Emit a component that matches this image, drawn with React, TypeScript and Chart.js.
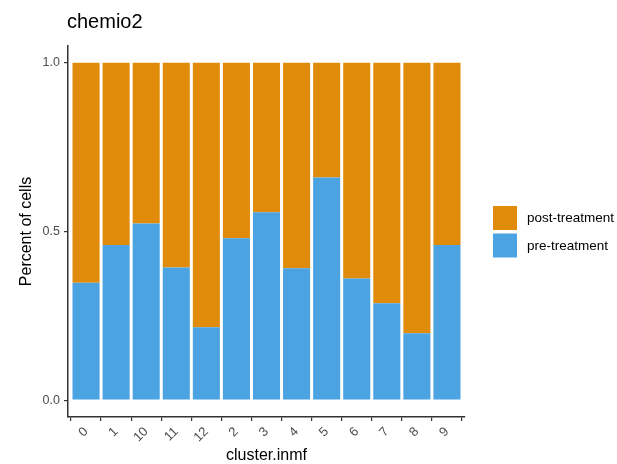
import React, { useEffect, useRef } from "react";
import { Chart, registerables } from "chart.js";

Chart.register(...registerables);

const categories = ["0", "1", "10", "11", "12", "2", "3", "4", "5", "6", "7", "8", "9"];
const preTreatment = [0.348, 0.46, 0.524, 0.393, 0.216, 0.48, 0.557, 0.391, 0.66, 0.361, 0.287, 0.198, 0.46];
const postTreatment = [0.652, 0.54, 0.476, 0.607, 0.784, 0.52, 0.443, 0.609, 0.34, 0.639, 0.713, 0.802, 0.54];
const yTicks = [0, 0.5, 1.0];

const ORANGE = "#E08B0A";
const BLUE = "#4BA3E1";
const FONT = "'Liberation Sans', Arial, Helvetica, sans-serif";

export default function App() {
  const ref = useRef<HTMLCanvasElement | null>(null);

  useEffect(() => {
    const canvas = ref.current;
    if (!canvas) return;

    const textPlugin = {
      id: "textPlugin",
      afterDraw(chart: any) {
        const ctx = chart.ctx as CanvasRenderingContext2D;
        const area = chart.chartArea;
        ctx.save();
        // title
        ctx.fillStyle = "#000";
        ctx.font = `20px ${FONT}`;
        ctx.textAlign = "left";
        ctx.textBaseline = "alphabetic";
        ctx.fillText("chemio2", 67, 28);
        // x title
        ctx.font = `16px ${FONT}`;
        ctx.textAlign = "center";
        ctx.textBaseline = "middle";
        ctx.fillText("cluster.inmf", (area.left + area.right) / 2, 456);
        // y title
        ctx.save();
        ctx.translate(27, (area.top + area.bottom) / 2);
        ctx.rotate(-Math.PI / 2);
        ctx.fillText("Percent of cells", 0, 0);
        ctx.restore();
        // legend
        const items = [
          { label: "post-treatment", color: ORANGE },
          { label: "pre-treatment", color: BLUE },
        ];
        ctx.font = `13.5px ${FONT}`;
        ctx.textAlign = "left";
        items.forEach((it, i) => {
          const y = 206 + i * 27.5;
          ctx.fillStyle = it.color;
          ctx.fillRect(493, y, 24, 24);
          ctx.fillStyle = "#000";
          ctx.fillText(it.label, 527, y + 12.5);
        });
        ctx.restore();
      },
    };

    const chart = new Chart(canvas, {
      type: "bar",
      data: {
        datasets: [
          {
            label: "pre-treatment",
            data: preTreatment.map((v, i) => ({ x: i, y: v })),
            backgroundColor: BLUE,
            borderWidth: 0,
            barPercentage: 0.9,
            categoryPercentage: 1,
          },
          {
            label: "post-treatment",
            data: postTreatment.map((v, i) => ({ x: i, y: v })),
            backgroundColor: ORANGE,
            borderWidth: 0,
            barPercentage: 0.9,
            categoryPercentage: 1,
          },
        ],
      },
      options: {
        responsive: false,
        animation: false,
        devicePixelRatio: 1,
        layout: { padding: { top: 46, right: 152, left: 0, bottom: 0 } },
        plugins: {
          legend: { display: false },
          title: { display: false },
          tooltip: { enabled: false },
        },
        scales: {
          x: {
            type: "linear",
            stacked: true,
            min: -0.6,
            max: 12.6,
            offset: false,
            afterBuildTicks(scale: any) {
              scale.ticks = categories.map((_, i) => ({ value: i }));
            },
            afterFit(scale: any) {
              scale.height = 47;
            },
            ticks: {
              autoSkip: false,
              minRotation: 45,
              maxRotation: 45,
              padding: 3,
              color: "#4D4D4D",
              font: { family: FONT, size: 13 },
              callback: (v: any) => categories[Math.round(Number(v))] ?? "",
            },
            grid: {
              display: true,
              drawOnChartArea: false,
              drawTicks: true,
              tickLength: 4,
              color: "#333",
              lineWidth: 1.2,
            },
            border: { display: true, color: "#333", width: 1.5 },
          },
          y: {
            type: "linear",
            stacked: true,
            min: -0.05,
            max: 1.05,
            afterBuildTicks(scale: any) {
              scale.ticks = yTicks.map((v) => ({ value: v }));
            },
            afterFit(scale: any) {
              scale.width = 68;
            },
            ticks: {
              padding: 4,
              color: "#4D4D4D",
              font: { family: FONT, size: 12.5 },
              callback: (v: any) => Number(v).toFixed(1),
            },
            grid: {
              display: true,
              drawOnChartArea: false,
              drawTicks: true,
              tickLength: 4,
              color: "#333",
              lineWidth: 1.2,
            },
            border: { display: true, color: "#333", width: 1.5 },
          },
        },
      },
      plugins: [textPlugin],
    } as any);

    return () => chart.destroy();
  }, []);

  return (
    <div style={{ position: "fixed", left: 0, top: 0, width: 617, height: 464, background: "#fff" }}>
      <canvas ref={ref} width={617} height={464} />
    </div>
  );
}
